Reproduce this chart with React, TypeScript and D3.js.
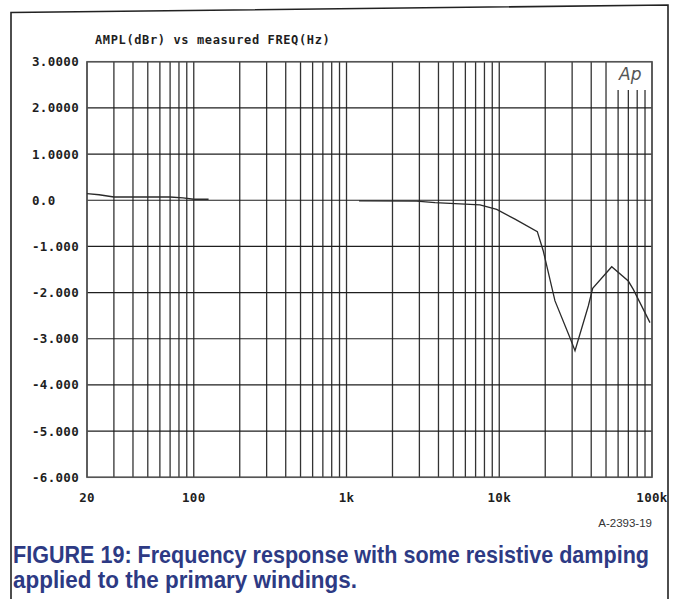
import React from "react";
import * as d3 from "d3";

// Amplitude (dBr) against measured frequency (Hz), two measured sweeps
const lowFreqHz = [20, 24, 30, 70, 85, 100, 125];
const lowAmpl = [0.143, 0.12, 0.07, 0.07, 0.05, 0.02, 0.02];

const highFreqHz = [1208, 2880, 3800, 7480, 9620, 12680, 17750, 19420, 23170, 29040, 31330, 38280, 40900, 54480, 69960, 75450, 97000];
const highAmpl = [-0.015, -0.02, -0.05, -0.1, -0.2, -0.41, -0.68, -1.1, -2.18, -2.98, -3.26, -2.29, -1.91, -1.44, -1.75, -1.93, -2.65];

const yTicks = [3, 2, 1, 0, -1, -2, -3, -4, -5, -6];
const yTickLabels = ["3.0000", "2.0000", "1.0000", "0.0", "-1.000", "-2.000", "-3.000", "-4.000", "-5.000", "-6.000"];
const xTickValues = [20, 100, 1000, 10000, 100000];
const xTickLabels = ["20", "100", "1k", "10k", "100k"];

const titleText = "AMPL(dBr) vs measured FREQ(Hz)";
const captionLines = [
  "FIGURE 19: Frequency response with some resistive damping",
  "applied to the primary windings.",
];
const captionWidths = [636, 344];
const figureId = "A-2393-19";

const W = 674;
const H = 599;
const plot = { left: 87, right: 652, top: 61.7, bottom: 477.3 };
const captionSqueeze = 0.8;

// log grid: 20..90, 100..900, 1k..9k, 10k..100k
function gridFreqs(): number[] {
  const out: number[] = [];
  for (const decade of [10, 100, 1000, 10000]) {
    for (let m = 1; m <= 9; m++) {
      const f = m * decade;
      if (f >= 20 && f <= 100000) out.push(f);
    }
  }
  out.push(100000);
  return out;
}

export default function App() {
  const x = d3.scaleLog().domain([20, 100000]).range([plot.left, plot.right]);
  const y = d3.scaleLinear().domain([-6, 3]).range([plot.bottom, plot.top]);
  const line = d3
    .line<[number, number]>()
    .x((d) => x(d[0]))
    .y((d) => y(d[1]));

  const lowPts = lowFreqHz.map((f, i) => [f, lowAmpl[i]] as [number, number]);
  const highPts = highFreqHz.map((f, i) => [f, highAmpl[i]] as [number, number]);

  const mono = "'DejaVu Sans Mono', 'Liberation Mono', monospace";
  const gridColor = "#333";
  const boxLeft = x(50000);
  const boxBottom = 90;

  return (
    <svg width={W} height={H} style={{ display: "block", position: "absolute", left: 0, top: 0 }}>
      <rect x={0} y={0} width={W} height={H} fill="#fff" />
      {/* outer figure frame */}
      <polyline points={`11,${H} 11,12.5 668,5 668,${H}`} fill="none" stroke="#222" strokeWidth={1.6} />

      <text x={95} y={44} fontFamily={mono} fontWeight="bold" fontSize={12} letterSpacing={0.62} fill="#1e1e1e">
        {titleText}
      </text>

      {/* vertical log grid */}
      {gridFreqs().map((f) => {
        const gx = x(f);
        const inBox = gx > boxLeft + 1 && gx < plot.right - 1;
        return (
          <line
            key={"v" + f}
            x1={gx}
            x2={gx}
            y1={inBox ? boxBottom : plot.top}
            y2={plot.bottom}
            stroke={gridColor}
            strokeWidth={1.3}
          />
        );
      })}
      {/* horizontal grid */}
      {yTicks.map((v) => (
        <line key={"h" + v} x1={plot.left} x2={plot.right} y1={y(v)} y2={y(v)} stroke="#1e1e1e" strokeWidth={1.2} />
      ))}
      <rect
        x={plot.left}
        y={plot.top}
        width={plot.right - plot.left}
        height={plot.bottom - plot.top}
        fill="none"
        stroke="#555"
        strokeWidth={1.5}
      />
      <text x={619} y={80} fontFamily="'DejaVu Sans', sans-serif" fontStyle="italic" fontSize={17} fill="#555" fontWeight={300}>
        Ap
      </text>

      {/* y tick labels */}
      {yTicks.map((v, i) => (
        <text key={"yl" + v} x={32} y={y(v) + 4.5} fontFamily={mono} fontWeight="bold" fontSize={12.5} letterSpacing={0.3} fill="#1e1e1e">
          {yTickLabels[i]}
        </text>
      ))}
      {/* x tick labels */}
      {xTickValues.map((f, i) => (
        <text key={"xl" + f} x={x(f)} y={502} textAnchor="middle" fontFamily={mono} fontWeight="bold" fontSize={12.5} letterSpacing={0.3} fill="#1e1e1e">
          {xTickLabels[i]}
        </text>
      ))}

      {/* response curves */}
      <path d={line(lowPts) ?? ""} fill="none" stroke="#2a2a2a" strokeWidth={1.4} />
      <path d={line(highPts) ?? ""} fill="none" stroke="#2a2a2a" strokeWidth={1.3} />

      <text x={652} y={527} textAnchor="end" fontFamily="'Liberation Sans', Arial, sans-serif" fontSize={11.5} fill="#333">
        {figureId}
      </text>

      {/* condensed bold caption */}
      {captionLines.map((t, i) => (
        <g key={"c" + i} transform={`translate(13,${563 + i * 25}) scale(${captionSqueeze},1)`}>
          <text
            x={0}
            y={0}
            fontFamily="'Liberation Sans', Arial, sans-serif"
            fontWeight="bold"
            fontSize={23}
            fill="#2d3a84"
            textLength={captionWidths[i] / captionSqueeze}
            lengthAdjust="spacingAndGlyphs"
          >
            {t}
          </text>
        </g>
      ))}
    </svg>
  );
}
